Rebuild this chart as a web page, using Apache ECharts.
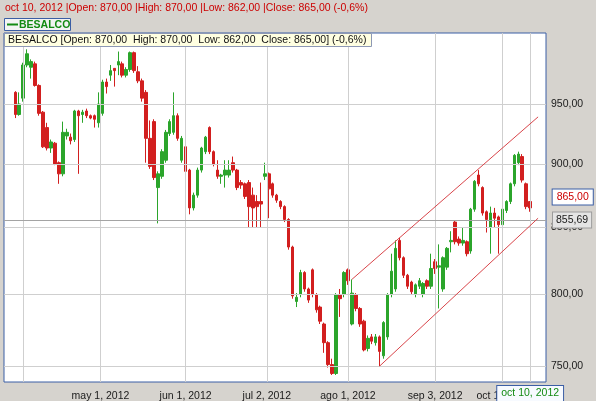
<!DOCTYPE html>
<html>
<head>
<meta charset="utf-8">
<script src="https://cdn.jsdelivr.net/npm/echarts@6/dist/echarts.min.js"></script>
<style>
  html, body { margin: 0; padding: 0; background: #d6d3ce; }
  #chart { width: 596px; height: 401px; }
</style>
</head>
<body>
<div id="chart"></div>
<script>
const name = 'BESALCO'

// trading days (Santiago), mar 29 - oct 10 2012
const dates = [
  '2012-03-29', '2012-03-30',
  '2012-04-02', '2012-04-03', '2012-04-04', '2012-04-05', '2012-04-09', '2012-04-10', '2012-04-11', '2012-04-12', '2012-04-13',
  '2012-04-16', '2012-04-17', '2012-04-18', '2012-04-19', '2012-04-20', '2012-04-23', '2012-04-24', '2012-04-25', '2012-04-26',
  '2012-04-27', '2012-04-30',
  '2012-05-02', '2012-05-03', '2012-05-04', '2012-05-07', '2012-05-08', '2012-05-09', '2012-05-10', '2012-05-11', '2012-05-14',
  '2012-05-15', '2012-05-16', '2012-05-17', '2012-05-18', '2012-05-22', '2012-05-23', '2012-05-24', '2012-05-25', '2012-05-28',
  '2012-05-29', '2012-05-30', '2012-05-31',
  '2012-06-01', '2012-06-04', '2012-06-05', '2012-06-06', '2012-06-07', '2012-06-08', '2012-06-11', '2012-06-12', '2012-06-13',
  '2012-06-14', '2012-06-15', '2012-06-18', '2012-06-19', '2012-06-20', '2012-06-21', '2012-06-22', '2012-06-25', '2012-06-26',
  '2012-06-27', '2012-06-28', '2012-06-29',
  '2012-07-03', '2012-07-04', '2012-07-05', '2012-07-06', '2012-07-09', '2012-07-10', '2012-07-11', '2012-07-12', '2012-07-13',
  '2012-07-17', '2012-07-18', '2012-07-19', '2012-07-20', '2012-07-23', '2012-07-24', '2012-07-25', '2012-07-26', '2012-07-27',
  '2012-07-30', '2012-07-31',
  '2012-08-01', '2012-08-02', '2012-08-03', '2012-08-06', '2012-08-07', '2012-08-08', '2012-08-09', '2012-08-10', '2012-08-13',
  '2012-08-14', '2012-08-16', '2012-08-17', '2012-08-20', '2012-08-21', '2012-08-22', '2012-08-23', '2012-08-24', '2012-08-27',
  '2012-08-28', '2012-08-29', '2012-08-30', '2012-08-31',
  '2012-09-03', '2012-09-04', '2012-09-05', '2012-09-06', '2012-09-07', '2012-09-10', '2012-09-11', '2012-09-12', '2012-09-13',
  '2012-09-14', '2012-09-20', '2012-09-21', '2012-09-24', '2012-09-25', '2012-09-26', '2012-09-27', '2012-09-28',
  '2012-10-01', '2012-10-02', '2012-10-03', '2012-10-04', '2012-10-05', '2012-10-08', '2012-10-09', '2012-10-10'
]

const open = [
  960, 941, 955, 984, 982, 985, 966, 943, 930, 913, 917, 901, 892, 923, 922, 920, 944, 941, 944, 940,
  940, 934, 942, 969, 975, 981, 984, 985, 975, 980, 995, 978, 970, 960, 921, 935, 881, 890, 903, 925,
  926, 940, 903, 914, 895, 865, 875, 895, 910, 930, 910, 895, 890, 891, 891, 901, 895, 885, 884, 885,
  875, 870, 870, 890, 892, 884, 875, 870, 866, 856, 835, 795, 800, 816, 804, 818, 800, 791, 779, 766,
  751, 745, 800, 800, 818, 779, 800, 790, 781, 762, 770, 766, 770, 757, 770, 800, 804, 840, 827, 814,
  809, 800, 806, 800, 810, 806, 824, 820, 804, 820, 839, 854, 841, 838, 839, 832, 864, 891, 881, 862,
  850, 861, 858, 852, 863, 870, 884, 901, 906, 884, 870
]
const close = [
  941, 950, 984, 994, 987, 966, 942, 914, 913, 918, 900, 892, 926, 926, 919, 944, 940, 943, 940, 938,
  937, 950, 969, 965, 979, 979, 987, 975, 980, 995, 979, 970, 955, 921, 898, 889, 892, 910, 926, 935,
  940, 921, 921, 894, 865, 875, 895, 913, 922, 910, 900, 890, 891, 895, 895, 895, 881, 883, 874, 866,
  865, 866, 868, 892, 880, 875, 871, 866, 856, 835, 799, 798, 816, 804, 796, 800, 789, 781, 766, 751,
  745, 800, 797, 816, 810, 801, 790, 779, 761, 769, 767, 770, 760, 780, 800, 817, 834, 827, 814, 806,
  802, 807, 810, 808, 806, 819, 819, 821, 827, 834, 840, 839, 838, 840, 830, 864, 886, 884, 861, 856,
  861, 857, 852, 864, 870, 884, 907, 908, 887, 866, 865
]
const low = [
  938, 940, 952, 982, 972, 965, 940, 913, 911, 909, 899, 884, 890, 920, 916, 918, 892, 934, 938, 937,
  930, 930, 940, 959, 970, 965, 975, 973, 973, 978, 977, 968, 952, 901, 896, 887, 853, 888, 901, 923,
  924, 919, 901, 892, 860, 863, 873, 893, 908, 908, 898, 888, 884, 881, 889, 893, 879, 880, 872, 850,
  850, 850, 850, 887, 857, 873, 869, 864, 854, 833, 797, 791, 798, 802, 794, 798, 787, 779, 759, 749,
  744, 744, 784, 798, 807, 778, 788, 777, 760, 760, 765, 764, 750, 755, 768, 798, 802, 825, 812, 804,
  800, 798, 804, 798, 804, 804, 815, 790, 802, 818, 831, 837, 836, 836, 828, 830, 862, 882, 859, 846,
  830, 850, 830, 850, 861, 868, 882, 899, 885, 864, 862
]
const high = [
  961, 960, 986, 998, 989, 987, 967, 944, 934, 920, 918, 902, 935, 929, 925, 945, 945, 945, 946, 941,
  941, 960, 971, 972, 984, 981, 996, 987, 982, 996, 996, 983, 972, 962, 936, 937, 894, 912, 928, 937,
  960, 942, 923, 916, 896, 877, 897, 914, 923, 931, 911, 903, 892, 903, 903, 906, 896, 887, 885, 887,
  881, 875, 885, 901, 893, 885, 876, 871, 867, 857, 836, 801, 818, 817, 805, 819, 801, 792, 780, 767,
  755, 801, 804, 817, 819, 811, 801, 791, 782, 771, 772, 772, 771, 781, 801, 830, 840, 842, 828, 815,
  810, 808, 812, 809, 811, 830, 826, 837, 828, 835, 847, 855, 843, 850, 840, 865, 887, 895, 882, 863,
  866, 865, 859, 865, 871, 885, 908, 910, 908, 885, 870
]

const yTicks = [750, 800, 850, 900, 950]
const gridDates = ['2012-04-02', '2012-05-01', '2012-06-01', '2012-07-02', '2012-08-01', '2012-09-03', '2012-10-01']
const labelDates = ['2012-05-01', '2012-06-01', '2012-07-02', '2012-08-01', '2012-09-03', '2012-10-01']
const cursorValue = 855.69
// trend channel [day index, price]
const upperChannel = [[85, 811], [132, 939]]
const lowerChannel = [[92, 750], [132, 857]]

const meses = ['ene', 'feb', 'mar', 'abr', 'may', 'jun', 'jul', 'ago', 'sep', 'oct', 'nov', 'dic']
const fmtDate = d => {
  const [y, m, dd] = d.split('-')
  return meses[m - 1] + ' ' + Number(dd) + ', ' + y
}
const fmtNum = v => v.toFixed(2).replace('.', ',')
// position on the day axis; a date without trading sits between its neighbours
const dayPos = d => {
  const i = dates.indexOf(d)
  return i >= 0 ? i : dates.findIndex(x => x > d) - 0.5
}

const last = dates.length - 1
const chg = ((close[last] - open[last]) / open[last] * 100).toFixed(1).replace('.', ',')
const headerText = fmtDate(dates[last]) + ' |Open: ' + fmtNum(open[last]) + ' |High: ' + fmtNum(high[last]) +
  ' |Low: ' + fmtNum(low[last]) + ' |Close: ' + fmtNum(close[last]) + ' (' + chg + '%)'
const infoText = name + ' [Open: ' + fmtNum(open[last]) + '  High: ' + fmtNum(high[last]) + '  Low: ' +
  fmtNum(low[last]) + '  Close: ' + fmtNum(close[last]) + '] (' + chg + '%)'

const candles = dates.map((d, i) => [i, open[i], close[i], low[i], high[i]])

const FONT = 'Liberation Sans'
const UP = '#2ba52b'
const DOWN = '#d21f1f'
const BLUE = '#3b5ea5'

const gridLines = []
yTicks.forEach(v => {
  gridLines.push({ yAxis: v, label: { position: 'end', distance: 5, formatter: fmtNum(v) } })
})
gridDates.forEach(d => {
  const show = labelDates.includes(d)
  gridLines.push({ xAxis: dayPos(d), label: { show, position: 'start', distance: 9, formatter: fmtDate(d) } })
})
gridLines.push({
  yAxis: cursorValue,
  lineStyle: { color: '#a4a4a4' },
  label: {
    position: 'end', distance: 7, formatter: fmtNum(cursorValue),
    backgroundColor: '#e4e4e4', borderColor: '#9c9c9c', borderWidth: 1, padding: [2, 3]
  }
})
gridLines.push({
  xAxis: last,
  label: {
    show: true, position: 'start', distance: 4, formatter: fmtDate(dates[last]), color: '#138a13',
    backgroundColor: '#f7faff', borderColor: BLUE, borderWidth: 1, padding: [2, 4]
  }
})

const chart = echarts.init(document.getElementById('chart'))

chart.setOption({
  animation: false,
  backgroundColor: '#d6d3ce',
  textStyle: { fontFamily: FONT },
  grid: {
    left: 4, right: 50, top: 33, bottom: 19,
    show: true, backgroundColor: '#ffffff', borderColor: BLUE, borderWidth: 1
  },
  xAxis: { type: 'value', min: -2.85, max: 134, show: false },
  yAxis: { type: 'log', min: 739.3, max: 1012.8, show: false },
  series: [
    {
      type: 'line',
      data: [],
      z: 1,
      silent: true,
      markLine: {
        silent: true,
        symbol: ['none', 'none'],
        lineStyle: { color: '#cfcfcf', width: 1, type: 'solid' },
        label: { show: true, color: '#1a1a1a', fontSize: 10.5, fontFamily: FONT },
        emphasis: { disabled: true },
        data: gridLines
      }
    },
    {
      type: 'candlestick',
      name,
      data: candles,
      encode: { x: 0, y: [1, 2, 3, 4] },
      barWidth: 3,
      itemStyle: {
        color: UP, color0: DOWN,
        borderColor: UP, borderColor0: DOWN,
        borderWidth: 1
      },
      markLine: {
        silent: true,
        symbol: ['none', 'none'],
        lineStyle: { color: '#d9454a', width: 1, type: 'solid' },
        label: { show: false },
        emphasis: { disabled: true },
        data: [
          [{ coord: upperChannel[0] }, { coord: upperChannel[1] }],
          [{ coord: lowerChannel[0] }, { coord: lowerChannel[1] }]
        ]
      },
      markPoint: {
        silent: true,
        symbol: 'circle',
        symbolSize: 1,
        itemStyle: { color: 'transparent' },
        data: [{
          coord: [last, close[last]],
          label: {
            show: true, position: 'right', distance: 0, offset: [22, -11],
            formatter: fmtNum(close[last]), color: '#cc0000', fontSize: 10.5, fontFamily: FONT,
            backgroundColor: '#ffffff', borderColor: BLUE, borderWidth: 1, padding: [2, 4]
          }
        }]
      }
    }
  ],
  graphic: [
    {
      type: 'text', x: 5, y: 8, z: 100,
      style: { text: headerText, fill: '#cc0000', fontSize: 10.5, fontFamily: FONT, verticalAlign: 'middle' }
    },
    {
      type: 'rect', z: 100,
      shape: { x: 4.5, y: 18.5, width: 66, height: 12 },
      style: { fill: '#f3f3f3', stroke: BLUE, lineWidth: 1 }
    },
    {
      type: 'line', z: 101,
      shape: { x1: 7, y1: 24.5, x2: 18, y2: 24.5 },
      style: { stroke: '#138a13', lineWidth: 2 }
    },
    {
      type: 'text', x: 19, y: 25, z: 101,
      style: { text: name, fill: '#138a13', fontWeight: 'bold', fontSize: 10.5, fontFamily: FONT, verticalAlign: 'middle' }
    },
    {
      type: 'rect', z: 100,
      shape: { x: 4.5, y: 33.5, width: 367, height: 13 },
      style: { fill: '#ffffe1', stroke: '#8d98b5', lineWidth: 1 }
    },
    {
      type: 'text', x: 8, y: 40.5, z: 101,
      style: { text: infoText, fill: '#111111', fontSize: 10.5, fontFamily: FONT, verticalAlign: 'middle' }
    }
  ]
})

window.addEventListener('resize', () => chart.resize())
</script>
</body>
</html>
